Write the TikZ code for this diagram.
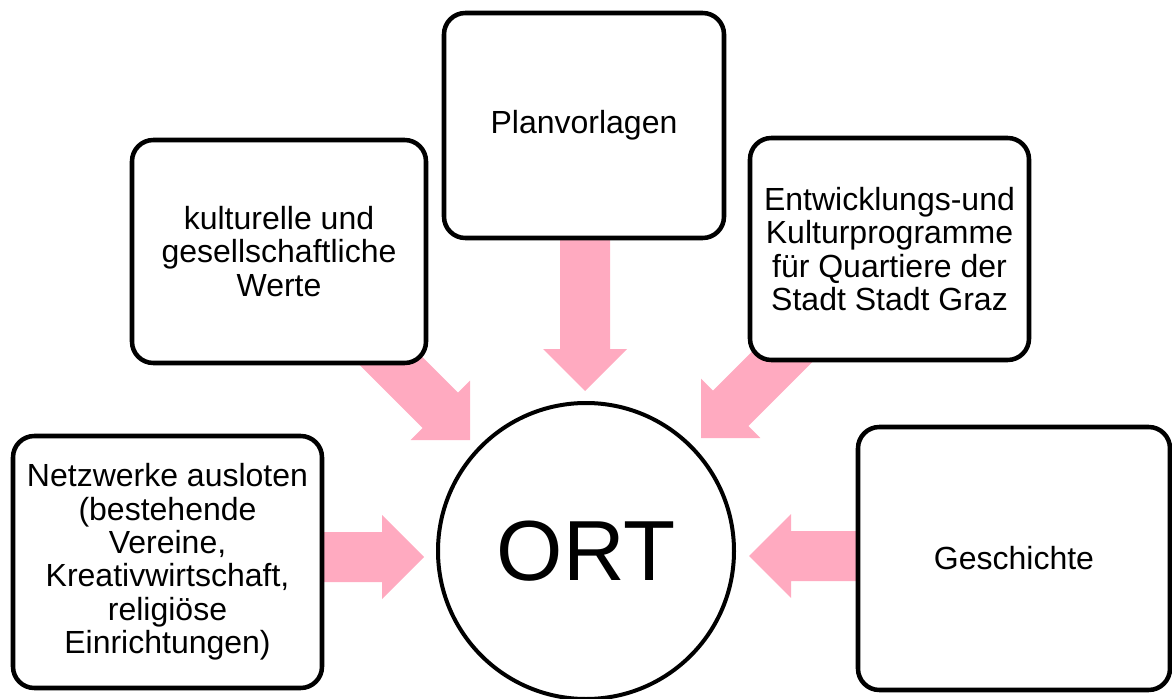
\documentclass[tikz,border=0pt]{standalone}
\usepackage{fontspec}
\setmainfont{Liberation Sans}
\definecolor{arrowpink}{RGB}{255,170,192}
\newcommand\pinkarrow[3]{%
  \begin{scope}[shift={(#1)},rotate=#2]
    \fill[arrowpink] (0,0) -- (-42,42) -- (-42,25) -- (-#3,25) -- (-#3,-25) -- (-42,-25) -- (-42,-42) -- cycle;
  \end{scope}}
\tikzset{
  box/.style={draw=black, line width=3.4pt, rounded corners=16pt, fill=white,
    align=center, inner sep=0pt, font=\fontsize{24pt}{25pt}\selectfont},
  ort/.style={circle, draw=black, line width=3pt, fill=white, inner sep=0pt,
    minimum size=296*0.75pt, font=\fontsize{64pt}{70pt}\selectfont},
}
\begin{document}
\begin{tikzpicture}[x=0.75pt,y=-0.75pt]
\useasboundingbox (0,0) rectangle (1172,699);
% arrow tips
\coordinate (tipplan) at (585,391);
\coordinate (tipkult) at (470,440);
\coordinate (tipentw) at (701,438);
\coordinate (tipnetz) at (424,557);
\coordinate (tipgesch) at (749,556);
\pinkarrow{tipplan}{-90}{160}
\pinkarrow{tipkult}{-45}{140}
\pinkarrow{tipentw}{-135}{145}
\pinkarrow{tipnetz}{0}{108}
\pinkarrow{tipgesch}{180}{115}
% boxes
\node[box, minimum width=280*0.75pt, minimum height=225*0.75pt] (plan) at (584,125.5) {\raisebox{-3pt}{Planvorlagen}};
\node[box, minimum width=294*0.75pt, minimum height=223*0.75pt] (kult) at (279,251.5) {kulturelle und\\gesellschaftliche\\Werte};
\node[box, minimum width=279*0.75pt, minimum height=222*0.75pt] (entw) at (889.5,249) {Entwicklungs-und\\Kulturprogramme\\für Quartiere der\\Stadt Stadt Graz};
\node[box, minimum width=309*0.75pt, minimum height=252*0.75pt] (netz) at (167.5,562) {Netzwerke ausloten\\(bestehende\\Vereine,\\Kreativwirtschaft,\\religiöse\\Einrichtungen)};
\node[box, minimum width=312*0.75pt, minimum height=263*0.75pt] (gesch) at (1014,558.5) {Geschichte};
\node[ort] (ort) at (586,551) {ORT};
\end{tikzpicture}
\end{document}
